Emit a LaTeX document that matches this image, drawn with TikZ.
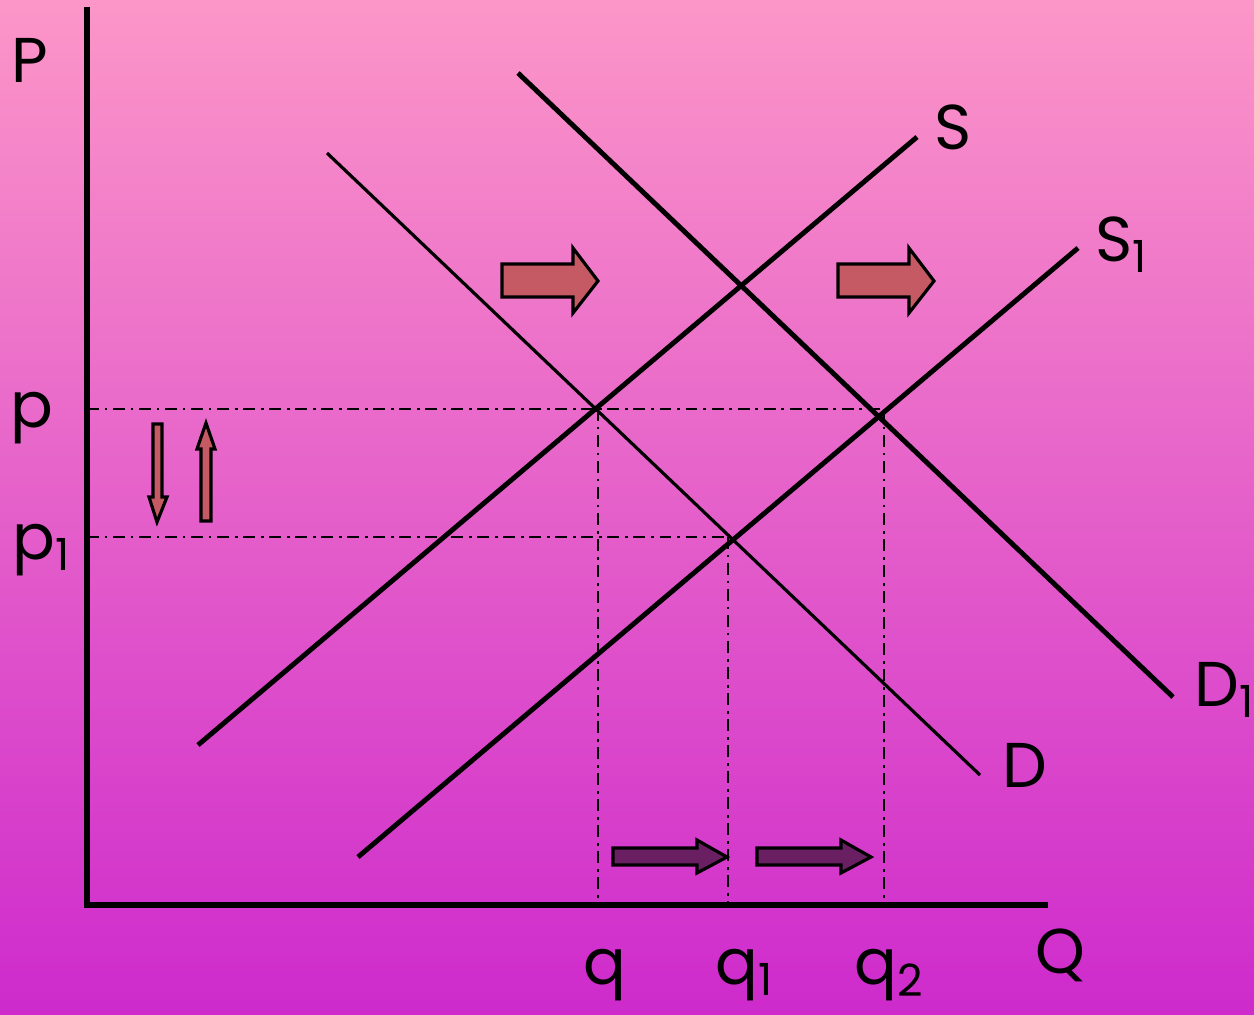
\documentclass[tikz,border=0pt]{standalone}
\usepackage{fontspec}
\setmainfont{Poppins}
\usetikzlibrary{calc}
\definecolor{bgtop}{HTML}{FC96C8}
\definecolor{bgbot}{HTML}{CE2ACC}
\definecolor{shiftred}{HTML}{C65A64}
\definecolor{shiftpurple}{HTML}{6A1F62}

\begin{document}
\begin{tikzpicture}[x=0.01cm, y=-0.01cm,
      axis/.style={line width=1.8pt, line cap=rect},
      curve/.style={line width=1.4pt},
      thincurve/.style={line width=0.9pt},
      guide/.style={line width=0.6pt, dash pattern=on 3.4pt off 1.6pt on 0.8pt off 1.6pt},
      lbl/.style={font=\fontsize{18}{20}\selectfont, inner sep=0pt},
      redarrow/.style={fill=shiftred, draw=black, line width=0.9pt, line join=miter},
      purplearrow/.style={fill=shiftpurple, draw=black, line width=0.9pt, line join=miter}
    ]
      % background
      \shade[top color=bgtop, bottom color=bgbot] (0,0) rectangle (1254,1014);
      \useasboundingbox (0,0) rectangle (1254,1014);

      % axes
      \coordinate (origin) at (87,905);
      \coordinate (ytop) at (87,10);
      \coordinate (xend) at (1045,905);
      \draw[axis] (ytop) -- (origin) -- (xend);

      % curves
      \coordinate (S0) at (198,745);   \coordinate (S2) at (917,137);
      \coordinate (T0) at (358,857);   \coordinate (T2) at (1078,248);
      \coordinate (D0) at (327,153);   \coordinate (D2) at (980,775);
      \coordinate (E0) at (518,73);    \coordinate (E2) at (1173,697);
      \draw[curve] (S0) -- (S2);
      \draw[curve] (T0) -- (T2);
      \draw[thincurve] (D0) -- (D2);
      \draw[curve] (E0) -- (E2);

      % equilibria and guides
      \coordinate (eq) at (598,409);
      \coordinate (eqA) at (728,537);
      \coordinate (eqB) at (884,409);
      \draw[guide] (87,409) -- (eqB);
      \draw[guide] (87,537) -- (eqA);
      \draw[guide] (eq) -- (eq |- origin);
      \draw[guide] (eqA) -- (eqA |- origin);
      \draw[guide] (eqB) -- (eqB |- origin);

      % labels
      \node[lbl] (Plbl) at (30,60) {P};
      \node[lbl] (Qlbl) at (1060,955) {Q};
      \node[lbl] (plbl) at (32,418) {p};
      \node[lbl] (p1lbl) at (42,550) {p\textsubscript{1}};
      \node[lbl] (qlbl) at (605,975) {q};
      \node[lbl] (q1lbl) at (745,975) {q\textsubscript{1}};
      \node[lbl] (q2lbl) at (890,975) {q\textsubscript{2}};
      \node[lbl] (Slbl) at (953,127) {S};
      \node[lbl] (S1lbl) at (1122,245) {S\textsubscript{1}};
      \node[lbl] (Dlbl) at (1025,765) {D};
      \node[lbl] (D1lbl) at (1225,690) {D\textsubscript{1}};

      % shift arrows
      \foreach \dx in {0,336}{
        \draw[redarrow, xshift=\dx*0.01cm] (502,264) -- (573,264) -- (573,248) -- (598,281)
          -- (573,313) -- (573,297) -- (502,297) -- cycle;
      }
      \foreach \dx in {0,144}{
        \draw[purplearrow, xshift=\dx*0.01cm] (613,848) -- (697,848) -- (697,840) -- (727,857)
          -- (697,873) -- (697,865) -- (613,865) -- cycle;
      }
      % price arrows
      \draw[redarrow] (153,424) -- (162,424) -- (162,497) -- (167,497) -- (157,522)
        -- (149,497) -- (153,497) -- cycle;
      \draw[redarrow] (201,521) -- (211,521) -- (211,449) -- (215,449) -- (206,423)
        -- (197,449) -- (201,449) -- cycle;
    \end{tikzpicture}
\end{document}
